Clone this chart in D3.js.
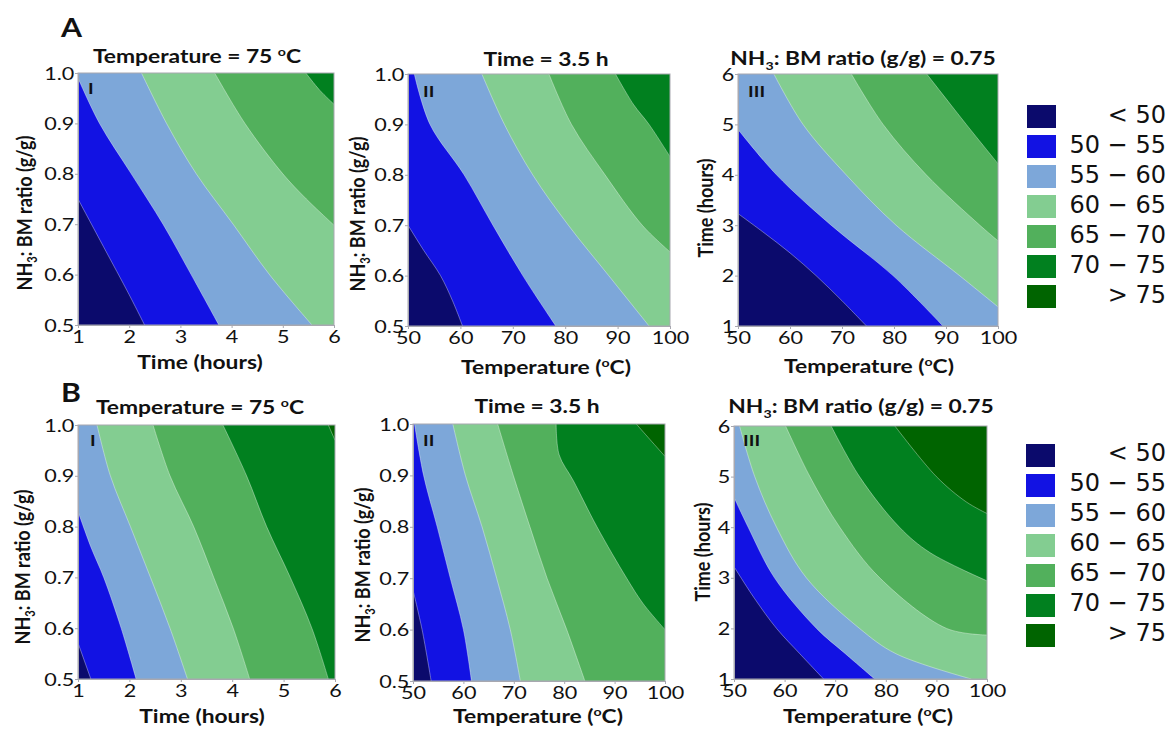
<!DOCTYPE html>
<html>
<head>
<meta charset="utf-8">
<script src="https://cdn.jsdelivr.net/npm/d3@7"></script>
<style>
  body { margin: 0; background: #fff; }
  text { font-family: Lato, "Open Sans", sans-serif; fill: #111; }
  .legend text { font-family: "DejaVu Sans", sans-serif; }
</style>
</head>
<body>
<div id="chart"></div>
<script>
// contour levels and legend
const levels = [50, 55, 60, 65, 70, 75];
const bandLabels = ["< 50", "50 \u2212 55", "55 \u2212 60", "60 \u2212 65", "65 \u2212 70", "70 \u2212 75", "> 75"];
const bandColors = ["#0b0a6c", "#1212e3", "#7da7d9", "#83cd91", "#52b05c", "#01801f", "#006400"];

const timeTicks = [1, 2, 3, 4, 5, 6];
const tempTicks = [50, 60, 70, 80, 90, 100];
const ratioTicks = [0.5, 0.6, 0.7, 0.8, 0.9, 1.0];

// contour lines, one per level (null = level not reached)
// row A, panel I: x = time (h), y = NH3:BM ratio
const linesA1 = [
    [[1, 0.75], [1.5, 0.655], [2, 0.56], [2.3, 0.5]],
    [[1, 0.99], [1.42, 0.9], [2.04, 0.8], [2.66, 0.7], [3.21, 0.6], [3.75, 0.5]],
    [[2.24, 1], [2.73, 0.9], [3.31, 0.8], [4.03, 0.7], [4.74, 0.6], [5.57, 0.5]],
    [[3.67, 1], [4.26, 0.9], [5.0, 0.8], [5.46, 0.75], [6, 0.698]],
    [[5.45, 1], [5.72, 0.966], [6, 0.938]],
    null
];
// row A, panel II: x = temperature, y = ratio
const linesA2 = [
    [[50, 0.70], [53, 0.65], [56.2, 0.6], [58.5, 0.55], [60.4, 0.5]],
    [[51.2, 1], [54.2, 0.9], [60.7, 0.8], [66.2, 0.7], [71.9, 0.6], [78.2, 0.5]],
    [[64.1, 1], [68.4, 0.9], [73.8, 0.8], [80.6, 0.7], [88.3, 0.6], [96, 0.5]],
    [[76.9, 1], [81.2, 0.9], [87.6, 0.8], [94.7, 0.7], [100, 0.647]],
    [[89.6, 1], [93, 0.94], [96, 0.9], [100, 0.836]],
    null
];
// row A, panel III: x = temperature, y = time
const linesA3 = [
    [[50, 3.23], [55, 2.85], [60, 2.45], [65, 2.0], [70, 1.5], [74.7, 1]],
    [[50, 4.9], [57.4, 4], [67.9, 3], [79.8, 2], [89.4, 1]],
    [[56.9, 6], [62.5, 5], [70.8, 4], [80.4, 3], [92.6, 2], [100, 1.38]],
    [[71.8, 6], [77.9, 5], [86.2, 4], [96.5, 3], [100, 2.69]],
    [[86.3, 6], [93.9, 5], [100, 4.22]],
    null
];
// row B
const linesB1 = [
    [[1, 0.571], [1.25, 0.5]],
    [[1, 0.83], [1.25, 0.76], [1.5, 0.7], [1.84, 0.6], [2.13, 0.5]],
    [[1.37, 1], [1.63, 0.9], [2.02, 0.8], [2.41, 0.7], [2.79, 0.6], [3.13, 0.5]],
    [[2.46, 1], [2.79, 0.9], [3.25, 0.8], [3.64, 0.7], [4.02, 0.6], [4.34, 0.5]],
    [[3.82, 1], [4.28, 0.9], [4.67, 0.8], [5.13, 0.7], [5.55, 0.6], [5.87, 0.5]],
    [[5.87, 1], [6, 0.97]]
];
const linesB2 = [
    [[50, 0.677], [51.8, 0.6], [53.6, 0.5]],
    [[50.3, 1], [52.1, 0.9], [54.8, 0.8], [57.4, 0.7], [60, 0.6], [61.6, 0.5]],
    [[57.9, 1], [60.4, 0.9], [63.7, 0.8], [66.6, 0.7], [69.3, 0.6], [71.3, 0.5]],
    [[66.8, 1], [69.9, 0.9], [73.2, 0.8], [76.6, 0.7], [80.5, 0.6], [84.1, 0.5]],
    [[78.4, 1], [79, 0.94], [81.8, 0.89], [86.5, 0.8], [92.4, 0.7], [95.7, 0.65], [100, 0.6]],
    [[94.3, 1], [97, 0.97], [100, 0.937]]
];
const linesB3 = [
    [[50, 3.22], [54, 2.6], [58.4, 2], [63, 1.5], [67.7, 1]],
    [[50, 4.59], [52.8, 4], [58, 3], [66.3, 2], [72, 1.5], [77.8, 1]],
    [[51.1, 6], [54.1, 5], [58.4, 4], [64.3, 3], [74.8, 2], [82, 1.5], [96.9, 1]],
    [[60.2, 6], [65, 5], [70.9, 4], [78.8, 3], [92, 2], [100, 1.87]],
    [[69.2, 6], [74.8, 5], [82.7, 4], [88.7, 3.5], [100, 2.94]],
    [[81.8, 6], [90, 5], [95.9, 4.5], [100, 4.27]]
];

// title / label pieces: [text, "sup" | "sub" | undefined]
const titleTemp = [["Temperature = 75 "], ["o", "sup"], ["C"]];
const titleTime = [["Time = 3.5 h"]];
const titleRatio = [["NH"], ["3", "sub"], [": BM ratio (g/g) = 0.75"]];
const labelTime = [["Time (hours)"]];
const labelTemp = [["Temperature ("], ["o", "sup"], ["C)"]];
const labelRatio = [["NH"], ["3", "sub"], [": BM ratio (g/g)"]];

const axisTime = { domain: [1, 6], ticks: timeTicks, fmt: d3.format("d"), label: labelTime };
const axisTemp = { domain: [50, 100], ticks: tempTicks, fmt: d3.format("d"), label: labelTemp };
const axisRatio = { domain: [0.5, 1.0], ticks: ratioTicks, fmt: d3.format(".1f"), label: labelRatio };

const panels = [
    { lines: linesA1, xa: axisTime, ya: axisRatio, title: titleTemp, tag: "I",
      box: { x: 78, y: 73, w: 256, h: 252 }, tx: 197, ty: 63, ylx: 25, yly: 213, xlx: 200, xlb: 369, tagxy: [88, 94] },
    { lines: linesA2, xa: axisTemp, ya: axisRatio, title: titleTime, tag: "II",
      box: { x: 408, y: 74, w: 262, h: 252 }, tx: 546, ty: 66, ylx: 358, yly: 214, xlx: 546, xlb: 374, tagxy: [423, 97] },
    { lines: linesA3, xa: axisTemp, ya: axisTime, title: titleRatio, tag: "III",
      box: { x: 738, y: 74, w: 260, h: 252 }, tx: 863, ty: 65, ylx: 706, yly: 208, xlx: 869, xlb: 373, tagxy: [748, 97] },
    { lines: linesB1, xa: axisTime, ya: axisRatio, title: titleTemp, tag: "I",
      box: { x: 78, y: 425, w: 257, h: 254 }, tx: 200, ty: 414, ylx: 23, yly: 567, xlx: 202, xlb: 723, tagxy: [90, 446] },
    { lines: linesB2, xa: axisTemp, ya: axisRatio, title: titleTime, tag: "II",
      box: { x: 413, y: 424, w: 252, h: 257 }, tx: 537, ty: 413, ylx: 363, yly: 565, xlx: 538, xlb: 723, tagxy: [423, 446] },
    { lines: linesB3, xa: axisTemp, ya: axisTime, title: titleRatio, tag: "III",
      box: { x: 734, y: 426, w: 253, h: 253 }, tx: 861, ty: 413, ylx: 703, yly: 552, xlx: 868, xlb: 723, tagxy: [743, 446] }
];

const legends = [{ x: 1027, y: 105, base: 18 }, { x: 1026, y: 444, base: 17 }];

// the source figure is stretched horizontally, so is its text
const stretch = 1.2

const svg = d3.select("#chart").append("svg")
    .attr("width", 1169)
    .attr("height", 729);

// writes pieces with sub/superscripts into a text element
function richText(sel, parts, size) {
    let shift = 0
    parts.forEach(([t, kind]) => {
        const target = kind === "sup" ? -0.38 * size : kind === "sub" ? 0.25 * size : 0
        const span = sel.append("tspan").attr("dy", target - shift).text(t)
        if (kind) span.attr("font-size", (size * 0.62) + "px")
        shift = target
    })
}

function label(parent, x, y, parts, size, extra = "") {
    const t = parent.append("text")
        .attr("transform", `translate(${x},${y}) scale(${stretch},1)${extra}`)
        .attr("text-anchor", "middle")
        .attr("font-size", size + "px").attr("font-weight", "bold")
    richText(t, parts, size)
    return t
}

// polygon on the high side of a contour (values grow to the upper right)
function highSide(pts, xd, yd) {
    const poly = []
    const start = pts[0], end = pts[pts.length - 1]
    if (end[1] === yd[0] && end[0] < xd[1]) poly.push([xd[1], yd[0]])
    poly.push([xd[1], yd[1]])
    if (start[0] === xd[0] && start[1] < yd[1]) poly.push([xd[0], yd[1]])
    return poly
}

panels.forEach((p, pi) => {
    const b = p.box
    const x = d3.scaleLinear().domain(p.xa.domain).range([b.x, b.x + b.w])
    const y = d3.scaleLinear().domain(p.ya.domain).range([b.y + b.h, b.y])
    const g = svg.append("g")

    const clipId = "clip" + pi
    g.append("clipPath").attr("id", clipId)
        .append("rect").attr("x", b.x).attr("y", b.y).attr("width", b.w).attr("height", b.h)

    const plot = g.append("g").attr("clip-path", `url(#${clipId})`)
    plot.append("rect")
        .attr("x", b.x).attr("y", b.y).attr("width", b.w).attr("height", b.h)
        .attr("fill", bandColors[0])

    const curve = d3.line().x(d => x(d[0])).y(d => y(d[1])).curve(d3.curveCatmullRom)
    p.lines.forEach((pts, i) => {
        if (!pts) return
        const corners = highSide(pts, p.xa.domain, p.ya.domain)
        const d = curve(pts) + corners.map(c => `L${x(c[0])},${y(c[1])}`).join("") + "Z"
        plot.append("path").attr("d", d).attr("fill", bandColors[i + 1])
        plot.append("path").attr("d", curve(pts))
            .attr("fill", "none").attr("stroke", "#fff")
            .attr("stroke-opacity", 0.45).attr("stroke-width", 0.8)
    })

    g.append("rect")
        .attr("x", b.x).attr("y", b.y).attr("width", b.w).attr("height", b.h)
        .attr("fill", "none").attr("stroke", "#a8a8b0").attr("stroke-width", 1)

    const xAxis = g.append("g")
        .attr("transform", `translate(0,${b.y + b.h})`)
        .call(d3.axisBottom(x).tickValues(p.xa.ticks).tickFormat(p.xa.fmt).tickSize(3).tickPadding(1))
    const yAxis = g.append("g")
        .attr("transform", `translate(${b.x},0)`)
        .call(d3.axisLeft(y).tickValues(p.ya.ticks).tickFormat(p.ya.fmt).tickSize(3).tickPadding(0))
    ;[xAxis, yAxis].forEach(a => {
        a.select(".domain").attr("stroke", "#a8a8b0")
        a.selectAll(".tick line").attr("stroke", "#a8a8b0")
        a.selectAll(".tick text").attr("font-size", "18px").attr("fill", "#111")
            .style("font-family", "Lato, sans-serif")
            .attr("transform", `scale(${stretch},1)`)
    })
    xAxis.selectAll(".tick text").attr("dy", "0.8em")
    yAxis.selectAll(".tick text").attr("dy", "0.34em")

    label(g, p.tx, p.ty, p.title, 19)
    label(g, p.xlx, p.xlb, p.xa.label, 19)
    label(g, p.ylx + 7, p.yly, p.ya.label, 18, " rotate(-90)")

    g.append("text")
        .attr("transform", `translate(${p.tagxy[0]},${p.tagxy[1]}) scale(${stretch},1)`)
        .attr("font-size", "16px").attr("font-weight", "bold")
        .text(p.tag)
})

// row letters
svg.append("text").attr("transform", "translate(61,37) scale(1.12,1)")
    .attr("font-size", "27px").attr("font-weight", "bold").text("A")
svg.append("text").attr("transform", "translate(61,402) scale(1.12,1)")
    .attr("font-size", "27px").attr("font-weight", "bold").text("B")

// legends
legends.forEach(l => {
    const lg = svg.append("g").attr("class", "legend")
        .attr("transform", `translate(${l.x},${l.y})`)
    lg.selectAll("rect")
        .data(bandLabels)
        .join("rect")
        .attr("x", 0)
        .attr("y", (d, i) => i * 30)
        .attr("width", 29)
        .attr("height", 23)
        .attr("fill", (d, i) => bandColors[i])
    lg.selectAll("text")
        .data(bandLabels)
        .join("text")
        .attr("transform", (d, i) => `translate(${1166 - l.x},${i * 30 + l.base}) scale(0.96,1)`)
        .attr("text-anchor", "end")
        .attr("font-size", "25px")
        .text(d => d)
})
</script>
</body>
</html>
